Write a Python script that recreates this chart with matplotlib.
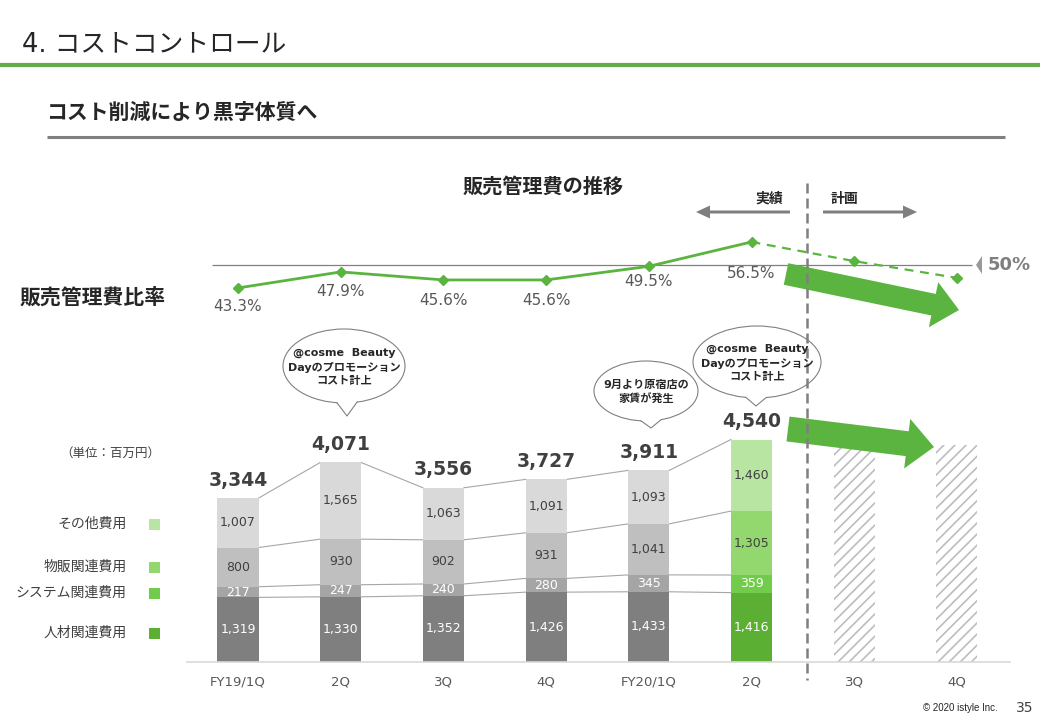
import numpy as np
import matplotlib
matplotlib.use("Agg")
import matplotlib.pyplot as plt
import matplotlib.patches as mpatches

# latin text in DejaVu (close to Verdana/Meiryo), japanese falls back to Noto CJK
plt.rcParams['font.family'] = ['DejaVu Sans', 'Noto Sans CJK JP']
plt.rcParams['hatch.linewidth'] = 1.2

# data (unit: million yen)
periods = ['FY19/1Q', '2Q', '3Q', '4Q', 'FY20/1Q', '2Q', '3Q', '4Q']
cost_names = ['人材関連費用', 'システム関連費用', '物販関連費用', 'その他費用']
people_cost = [1319, 1330, 1352, 1426, 1433, 1416]
system_cost = [217, 247, 240, 280, 345, 359]
sales_cost = [800, 930, 902, 931, 1041, 1305]
other_cost = [1007, 1565, 1063, 1091, 1093, 1460]
totals = [3344, 4071, 3556, 3727, 3911, 4540]
plan_totals = [4390, 4430]      # plan bars, no label in the source
sga_ratio = [43.3, 47.9, 45.6, 45.6, 49.5, 56.5]
plan_ratio = [51.0, 46.2]
ratio_target = 50

W, H = 1040, 720
GREEN = '#5AB43F'
DARK = '#404040'

gray_cols = ['#7F7F7F', '#A5A5A5', '#BFBFBF', '#D9D9D9']
green_cols = ['#5BB033', '#70CC4A', '#92D86E', '#B9E5A3']
seg_txt_cols = ['white', 'white', DARK, DARK]


def fx(px):
    return px / W


def fy(py):
    return 1 - py / H


fig = plt.figure(figsize=(W / 100, H / 100), dpi=100)

# bar centres sit at 238 + 102.7*i px, axis line runs 187..1010 px
step = 102.7
xlim = ((187 - 238) / step, (1010 - 238) / step)

# ---- stacked bars ----
ax = fig.add_axes([fx(187), fy(662), fx(1010 - 187), (662 - 417) / H])
ax.set_xlim(*xlim)
ax.set_ylim(0, 5000)

x_act = np.arange(len(totals))
x_plan = np.arange(len(totals), len(periods))
bw = 0.4

stack = [people_cost, system_cost, sales_cost, other_cost]
bottom = np.zeros(len(totals))
levels = []
for k, vals in enumerate(stack):
    vals = np.array(vals)
    cols = [gray_cols[k]] * (len(vals) - 1) + [green_cols[k]]
    ax.bar(x_act, vals, bw, bottom=bottom, color=cols, lw=0, zorder=2)
    for xi, v, b in zip(x_act, vals, bottom):
        ax.text(xi, b + v / 2, f"{v:,}", ha='center', va='center',
                fontsize=9, color=seg_txt_cols[k], zorder=3)
    bottom = bottom + vals
    levels.append(bottom.copy())
levels[-1] = np.array(totals)

# thin connector lines between the bars
for lev in levels:
    for i in range(len(lev) - 1):
        ax.plot([i + bw / 2, i + 1 - bw / 2], [lev[i], lev[i + 1]],
                color='#A6A6A6', lw=0.8, zorder=1)

for xi, t in zip(x_act, totals):
    ax.annotate(f"{t:,}", (xi, t), xytext=(0, 13), textcoords='offset points',
                ha='center', va='center', fontsize=13.5, fontweight='bold',
                color=DARK)

ax.bar(x_plan, plan_totals, bw, color='white', edgecolor='#BDBDBD',
       hatch='///', lw=0, zorder=2)

ax.set_xticks(range(len(periods)), periods)
ax.set_yticks([])
ax.tick_params(axis='x', length=0, pad=10, labelsize=9.5, labelcolor='#595959')
for s in ['top', 'left', 'right']:
    ax.spines[s].set_visible(False)
ax.spines['bottom'].set_color('#D9D9D9')
ax.spines['bottom'].set_linewidth(1.2)
ax.patch.set_alpha(0)

# ---- SG&A ratio line ----
ax2 = fig.add_axes([fx(187), fy(300), fx(1010 - 187), 70 / H])
ax2.set_xlim(*xlim)
ax2.set_ylim(39.84, 59.93)
ax2.axis('off')
ax2.hlines(ratio_target, (212 - 238) / step, (972 - 238) / step,
           color='#808080', lw=0.9)
ax2.plot(x_act, sga_ratio, color=GREEN, lw=2, marker='D', ms=5, zorder=3)
ax2.plot([x_act[-1], *x_plan], [sga_ratio[-1], *plan_ratio], color=GREEN,
         lw=1.6, ls=(0, (4, 3)), marker='D', ms=5, markevery=[1, 2], zorder=3)

pct_dy = [13.7, 14.4, 15.1, 15.1, 10.8, 23]   # label offsets below markers (pt)
for xi, v, dy in zip(x_act, sga_ratio, pct_dy):
    ax2.annotate(f"{v}%", (xi, v), xytext=(0, -dy), textcoords='offset points',
                 ha='center', va='center', fontsize=11, color='#595959',
                 annotation_clip=False)

# ---- overlay for slide furniture (pixel coords) ----
ov = fig.add_axes([0, 0, 1, 1], zorder=5)
ov.set_xlim(0, W)
ov.set_ylim(H, 0)
ov.axis('off')
ov.patch.set_alpha(0)

ov.text(22, 44, '4. コストコントロール', fontsize=18.5, color='#262626', va='center')
ov.plot([0, W], [65, 65], color='#62AD4A', lw=3, solid_capstyle='butt')
ov.text(46, 113, 'コスト削減により黒字体質へ', fontsize=15, fontweight='bold',
        color='#262626', va='center')
ov.plot([47, 1005], [137, 137], color='#808080', lw=2.2, solid_capstyle='butt')

ov.text(543, 187, '販売管理費の推移', fontsize=14.5, fontweight='bold',
        color='#262626', ha='center', va='center')
ov.text(20, 297, '販売管理費比率', fontsize=15, fontweight='bold',
        color='#262626', va='center')

# actual / plan divider and arrows
ov.plot([807, 807], [183, 680], color='#7F7F7F', lw=1.8, ls=(0, (4, 2)))
ov.text(769, 199, '実績', fontsize=10, fontweight='bold', color='#262626',
        ha='center', va='center')
ov.text(844, 199, '計画', fontsize=10, fontweight='bold', color='#262626',
        ha='center', va='center')
ov.add_patch(mpatches.FancyArrow(790, 212, -94, 0, width=3, head_width=13,
                                 head_length=14, length_includes_head=True,
                                 color='#7F7F7F', lw=0))
ov.add_patch(mpatches.FancyArrow(823, 212, 94, 0, width=3, head_width=13,
                                 head_length=14, length_includes_head=True,
                                 color='#7F7F7F', lw=0))

# 50% target marker
ov.add_patch(mpatches.Polygon([(976, 265), (982, 256), (982, 274)],
                              closed=True, color='#999999', lw=0))
ov.text(988, 265, f"{ratio_target}%", fontsize=13, fontweight='bold',
        color='#7F7F7F', va='center')

# big green trend arrows
ov.add_patch(mpatches.FancyArrow(786, 274, 173, 36, width=22, head_width=46,
                                 head_length=26, length_includes_head=True,
                                 color=GREEN, lw=0))
ov.add_patch(mpatches.FancyArrow(788, 429, 146, 18, width=25, head_width=50,
                                 head_length=27, length_includes_head=True,
                                 color=GREEN, lw=0))


def bubble(cx, cy, w, h, tip, text):
    a, b = w / 2, h / 2
    base = [(x, cy + b * np.sqrt(1 - ((x - cx) / a) ** 2))
            for x in (tip[0] - 10, tip[0] + 10)]
    ov.add_patch(mpatches.Ellipse((cx, cy), w, h, fc='white', ec='#808080', lw=0.8))
    ov.add_patch(mpatches.Polygon([(base[0][0], base[0][1] - 2), base[0], tip,
                                   base[1], (base[1][0], base[1][1] - 2)],
                                  closed=True, fc='white', ec='none'))
    ov.plot([base[0][0], tip[0], base[1][0]], [base[0][1], tip[1], base[1][1]],
            color='#808080', lw=0.8)
    ov.text(cx, cy + 1, text, ha='center', va='center', fontsize=8,
            fontweight='bold', linespacing=1.4, color='#262626')


promo = '@cosme  Beauty\nDayのプロモーション\nコスト計上'
bubble(344, 366, 122, 74, (347, 416), promo)
bubble(757, 362, 128, 72, (756, 406), promo)
bubble(646, 391, 104, 60, (651, 428), '9月より原宿店の\n家賃が発生')

# legend on the left
ov.text(110, 453, '（単位：百万円）', fontsize=9, color=DARK,
        ha='center', va='center')
legend_y = [633, 593, 567, 524]
for name, col, ly in zip(cost_names, green_cols, legend_y):
    ov.text(127, ly, name, fontsize=10, color=DARK, ha='right', va='center')
    ov.add_patch(mpatches.Rectangle((149, ly - 5.5), 11, 11, color=col, lw=0))

ov.text(998, 708, '© 2020 istyle Inc.', fontsize=7, color='#262626',
        family='Liberation Sans', ha='right', va='center')
ov.text(1025, 708, '35', fontsize=10, color=DARK, ha='center', va='center')

fig.savefig('out.png', dpi=100, facecolor='white')
